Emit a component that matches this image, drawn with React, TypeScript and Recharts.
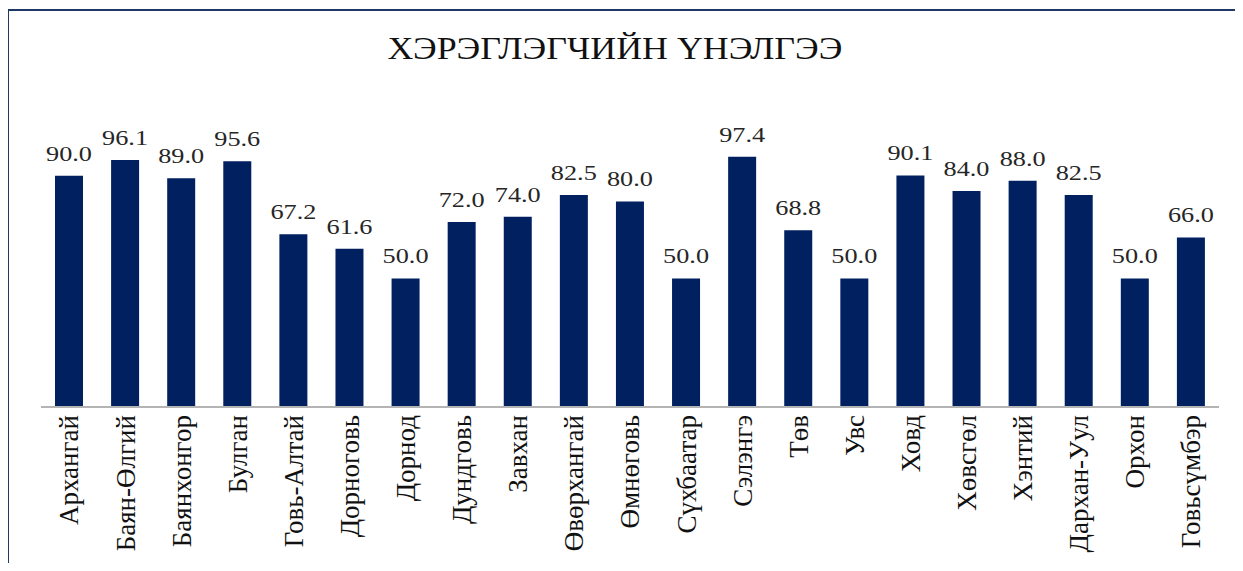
import React from 'react';
import { BarChart, Bar, XAxis, YAxis } from 'recharts';

const categories = ['Архангай', 'Баян-Өлгий', 'Баянхонгор', 'Булган', 'Говь-Алтай', 'Дорноговь', 'Дорнод', 'Дундговь', 'Завхан', 'Өвөрхангай', 'Өмнөговь', 'Сүхбаатар', 'Сэлэнгэ', 'Төв', 'Увс', 'Ховд', 'Хөвсгөл', 'Хэнтий', 'Дархан-Уул', 'Орхон', 'Говьсүмбэр'];
const values = [90.0, 96.1, 89.0, 95.6, 67.2, 61.6, 50.0, 72.0, 74.0, 82.5, 80.0, 50.0, 97.4, 68.8, 50.0, 90.1, 84.0, 88.0, 82.5, 50.0, 66.0];
const title = 'ХЭРЭГЛЭГЧИЙН ҮНЭЛГЭЭ';

const data = categories.map((name, i) => ({ name, value: values[i] }));

const FONT = '"Liberation Serif", "Times New Roman", serif';

const CategoryTick = (props: any) => {
  const { x, y, payload } = props;
  return (
    <text
      x={x}
      y={y}
      transform={`rotate(-90, ${x}, ${y})`}
      textAnchor="end"
      dy="0.35em"
      fontSize={27}
      fontFamily={FONT}
      fill="#111"
    >
      {payload.value}
    </text>
  );
};

const renderValueLabel = (props: any) => {
  const { x, y, width, value } = props;
  const cx = Number(x) + Number(width) / 2;
  return (
    <text
      x={cx}
      y={Number(y) - 15}
      textAnchor="middle"
      fontSize={21}
      fontFamily={FONT}
      fill="#262626"
      transform={`translate(${cx} 0) scale(1.25 1) translate(${-cx} 0)`}
    >
      {Number(value).toFixed(1)}
    </text>
  );
};

export default function App() {
  return (
    <div style={{ position: 'relative', margin: -8, width: 1243, height: 571, background: '#fff' }}>
      <div
        style={{
          position: 'absolute',
          left: 7,
          top: 9,
          width: 1236,
          height: 562,
          borderTop: '2px solid #1f3864',
          borderLeft: '2px solid #1f3864',
          boxSizing: 'border-box',
        }}
      />
      <div
        style={{
          position: 'absolute',
          left: 615,
          top: 32,
          whiteSpace: 'nowrap',
          fontFamily: FONT,
          fontSize: 32,
          lineHeight: '32px',
          color: '#111',
          transform: 'translateX(-50%) scaleX(1.12)',
        }}
      >
        {title}
      </div>
      <div style={{ position: 'absolute', left: 0, top: 0 }}>
        <BarChart
          width={1243}
          height={571}
          data={data}
          margin={{ top: 150, right: 24, bottom: 0, left: 41 }}
        >
          <XAxis
            dataKey="name"
            height={164}
            interval={0}
            tickLine={false}
            axisLine={{ stroke: '#b4b4b4', strokeWidth: 2 }}
            tick={<CategoryTick />}
          />
          <YAxis width={0} domain={[0, 100]} tick={false} axisLine={false} tickLine={false} />
          <Bar dataKey="value" fill="#002060" barSize={28} isAnimationActive={false} label={renderValueLabel} />
        </BarChart>
      </div>
    </div>
  );
}
